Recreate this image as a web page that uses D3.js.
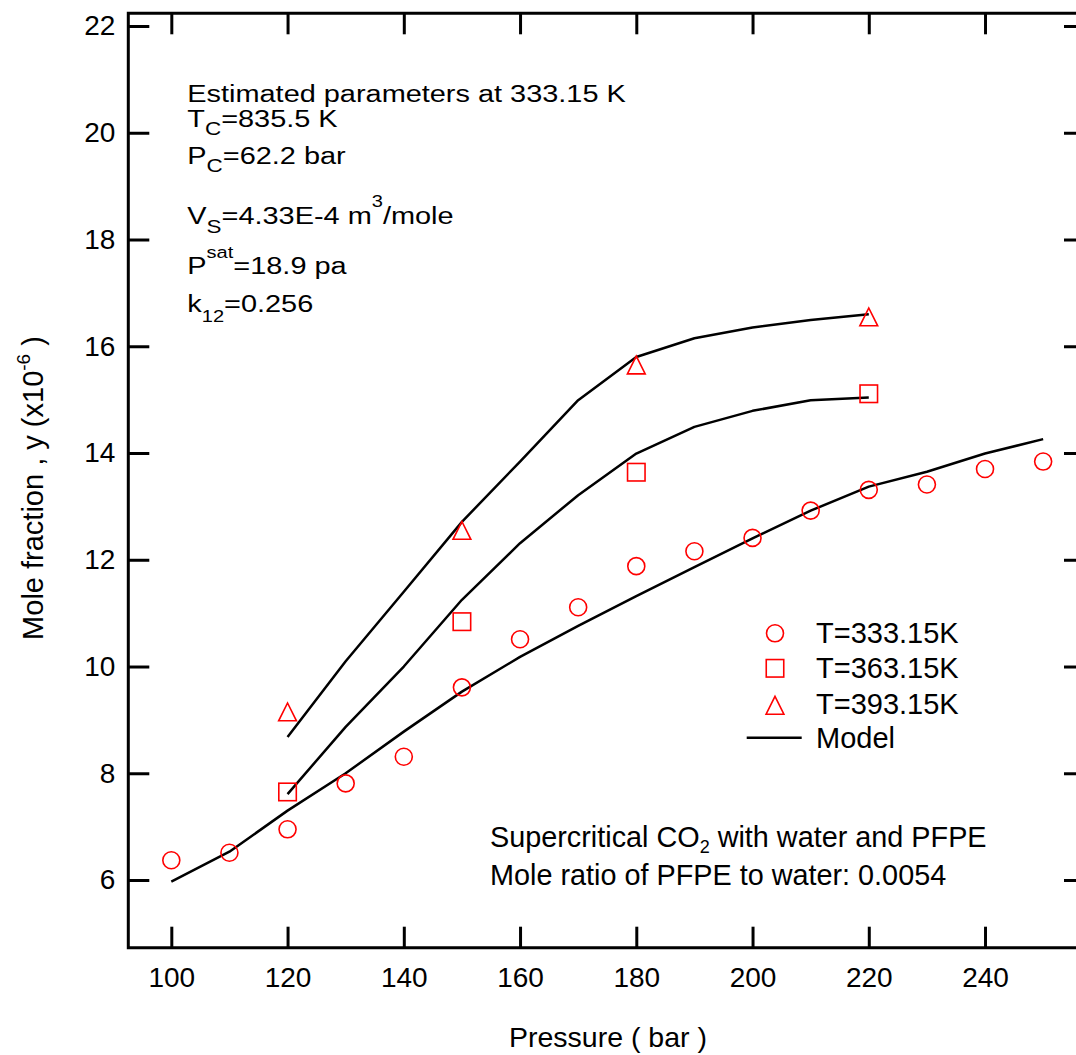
<!DOCTYPE html>
<html>
<head>
<meta charset="utf-8">
<script src="https://cdn.jsdelivr.net/npm/d3@7"></script>
<style>
  html, body { margin: 0; padding: 0; background: #fff; }
  svg { display: block; font-family: "Liberation Sans", Arial, Helvetica, sans-serif; }
</style>
</head>
<body>
<svg id="chart" width="1076" height="1055"></svg>
<script>
// Measured solubility (mole fraction x 1e-6) against pressure (bar)
const p333 = [100, 110, 120, 130, 140, 150, 160, 170, 180, 190, 200, 210, 220, 230, 240, 250];
const y333 = [6.37, 6.51, 6.95, 7.81, 8.31, 9.61, 10.51, 11.11, 11.88, 12.16, 12.41, 12.92, 13.31, 13.41, 13.70, 13.84];
const p363 = [120, 150, 180, 220];
const y363 = [7.65, 10.84, 13.64, 15.11];
const p393 = [120, 150, 180, 220];
const y393 = [9.15, 12.55, 15.65, 16.55];

// Model curves
const modelP333 = [100, 110, 120, 130, 140, 150, 160, 170, 180, 190, 200, 210, 220, 230, 240, 250];
const model333 = [5.97, 6.53, 7.30, 8.00, 8.78, 9.53, 10.18, 10.76, 11.32, 11.86, 12.40, 12.92, 13.37, 13.65, 13.99, 14.26];
const modelP363 = [120, 130, 140, 150, 160, 170, 180, 190, 200, 210, 220];
const model363 = [7.61, 8.87, 10.00, 11.25, 12.31, 13.21, 13.99, 14.49, 14.79, 14.99, 15.04];
const modelP393 = [120, 130, 140, 150, 160, 170, 180, 190, 200, 210, 220];
const model393 = [8.68, 10.10, 11.40, 12.71, 13.84, 14.99, 15.80, 16.15, 16.35, 16.49, 16.60];

const xTicks = [100, 120, 140, 160, 180, 200, 220, 240];
const yTicks = [6, 8, 10, 12, 14, 16, 18, 20, 22];
const legendLabels = ["T=333.15K", "T=363.15K", "T=393.15K", "Model"];

const RED = "#ff0000";
const svg = d3.select("#chart");

const plotL = 128.3, plotR = 1085, plotT = 13.3, plotB = 947.7;
const x = d3.scaleLinear().domain([92.6, 257.2]).range([plotL, plotR]);
const y = d3.scaleLinear().domain([4.732, 22.238]).range([plotB, plotT]);

// ---- axes (ticks point inward on all four sides) ----
function styleAxis(g) {
  g.select(".domain").remove();
  g.selectAll(".tick line").attr("stroke", "#000").attr("stroke-width", 3);
  g.selectAll(".tick text").attr("fill", "#000").attr("font-family", "Liberation Sans, Arial, sans-serif");
}
const TS = 21;
svg.append("g").attr("transform", `translate(0,${plotB})`)
  .call(d3.axisBottom(x).tickValues(xTicks).tickSize(-TS).tickPadding(19.6).tickFormat(d3.format("d")))
  .call(styleAxis).attr("font-size", 28);
svg.append("g").attr("transform", `translate(0,${plotT})`)
  .call(d3.axisTop(x).tickValues(xTicks).tickSize(-TS).tickFormat(""))
  .call(styleAxis);
svg.append("g").attr("transform", `translate(${plotL},0)`)
  .call(d3.axisLeft(y).tickValues(yTicks).tickSize(-TS).tickPadding(13).tickFormat(d3.format("d")))
  .call(styleAxis).attr("font-size", 28);
svg.append("g").attr("transform", `translate(${plotR},0)`)
  .call(d3.axisRight(y).tickValues(yTicks).tickSize(-TS).tickFormat(""))
  .call(styleAxis);

// frame
svg.append("path")
  .attr("d", `M${plotL},${plotT}H${plotR}V${plotB}H${plotL}Z`)
  .attr("fill", "none").attr("stroke", "#000").attr("stroke-width", 3);

// ---- axis titles ----
svg.append("text").attr("x", 608).attr("y", 1046.7).attr("text-anchor", "middle")
  .attr("font-size", 28.5).text("Pressure ( bar )");

const yTitle = svg.append("text")
  .attr("transform", "translate(43,488) rotate(-90)")
  .attr("text-anchor", "middle").attr("font-size", 29);
yTitle.append("tspan").text("Mole fraction , y (x10");
yTitle.append("tspan").attr("font-size", 19).attr("dy", -13).text("-6");
yTitle.append("tspan").attr("dy", 13).text(" )");

// ---- model curves ----
const line = d3.line().x(d => x(d[0])).y(d => y(d[1]));
const curves = [
  d3.zip(modelP333, model333),
  d3.zip(modelP363, model363),
  d3.zip(modelP393, model393)
];
svg.append("g").selectAll("path").data(curves).join("path")
  .attr("d", line).attr("fill", "none").attr("stroke", "#000")
  .attr("stroke-width", 2.5).attr("stroke-linejoin", "round");

// ---- markers ----
const R = 8.5, SQ = 17.5, TRI = 8.9;
function circleMark(g, cx, cy) {
  g.append("circle").attr("cx", cx).attr("cy", cy).attr("r", R)
    .attr("fill", "none").attr("stroke", RED).attr("stroke-width", 1.6);
}
function squareMark(g, cx, cy) {
  g.append("rect").attr("x", cx - SQ / 2).attr("y", cy - SQ / 2)
    .attr("width", SQ).attr("height", SQ)
    .attr("fill", "none").attr("stroke", RED).attr("stroke-width", 1.6);
}
function triMark(g, cx, cy) {
  g.append("path")
    .attr("d", `M${cx},${cy - TRI}L${cx + TRI},${cy + TRI}L${cx - TRI},${cy + TRI}Z`)
    .attr("fill", "none").attr("stroke", RED).attr("stroke-width", 1.6)
    .attr("stroke-linejoin", "miter");
}
const marks = svg.append("g");
d3.zip(p333, y333).forEach(d => circleMark(marks, x(d[0]), y(d[1])));
d3.zip(p363, y363).forEach(d => squareMark(marks, x(d[0]), y(d[1])));
d3.zip(p393, y393).forEach(d => triMark(marks, x(d[0]), y(d[1])));

// ---- legend ----
const leg = svg.append("g");
const legRows = [642.7, 678.3, 714.3, 748.3];
circleMark(leg, 775, 633.3);
squareMark(leg, 775, 668.3);
triMark(leg, 775, 705.3);
leg.append("line").attr("x1", 746.7).attr("x2", 801.7).attr("y1", 737.7).attr("y2", 737.7)
  .attr("stroke", "#000").attr("stroke-width", 2.5);
leg.selectAll("text").data(legendLabels).join("text")
  .attr("x", 816).attr("y", (d, i) => legRows[i]).attr("font-size", 29).text(d => d);

// ---- rich text helper (sub/superscripts) ----
function rich(textSel, parts, base) {
  let shift = 0;
  parts.forEach(p => {
    const target = p.dy || 0;
    const ts = textSel.append("tspan").attr("dy", target - shift).text(p.t);
    ts.attr("font-size", p.size || base);
    shift = target;
  });
}

// parameter block, top left
const paramLines = [
  { y: 101.7, parts: [{ t: "Estimated parameters at 333.15 K" }] },
  { y: 126.7, parts: [{ t: "T" }, { t: "C", size: 19, dy: 8 }, { t: "=835.5 K" }] },
  { y: 164.0, parts: [{ t: "P" }, { t: "C", size: 19, dy: 8 }, { t: "=62.2 bar" }] },
  { y: 224.0, parts: [{ t: "V" }, { t: "S", size: 19, dy: 9 }, { t: "=4.33E-4 m" }, { t: "3", size: 17, dy: -17 }, { t: "/mole" }] },
  { y: 274.0, parts: [{ t: "P" }, { t: "sat", size: 17, dy: -16 }, { t: "=18.9 pa" }] },
  { y: 311.7, parts: [{ t: "k" }, { t: "12", size: 17, dy: 10 }, { t: "=0.256" }] }
];
paramLines.forEach(l => {
  const t = svg.append("g").attr("transform", `translate(187.3,${l.y}) scale(1.18,1)`)
    .append("text").attr("x", 0).attr("y", 0).attr("font-size", 24.5);
  rich(t, l.parts, 24.5);
});

// system description, bottom right
const t1 = svg.append("text").attr("x", 490).attr("y", 846.5).attr("font-size", 28.8);
rich(t1, [{ t: "Supercritical CO" }, { t: "2", size: 18, dy: 6 }, { t: " with water and PFPE" }], 28.8);
svg.append("text").attr("x", 490).attr("y", 885).attr("font-size", 28.8)
  .text("Mole ratio of PFPE to water: 0.0054");
</script>
</body>
</html>
